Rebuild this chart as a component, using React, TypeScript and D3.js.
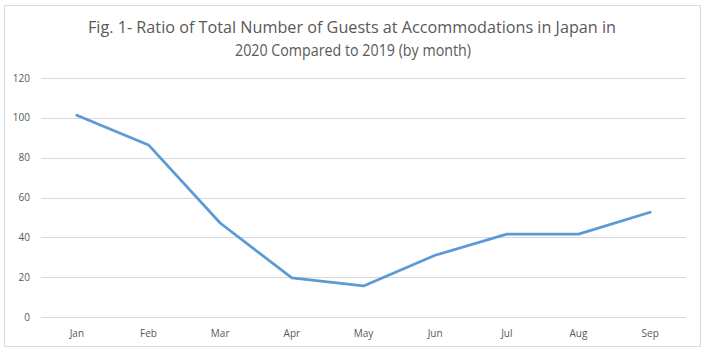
import React from 'react';
import * as d3 from 'd3';

const months = ['Jan', 'Feb', 'Mar', 'Apr', 'May', 'Jun', 'Jul', 'Aug', 'Sep'];
const ratios = [101.3, 86.4, 47.2, 19.6, 15.6, 31.0, 41.6, 41.6, 52.6];
const yTicks = [0, 20, 40, 60, 80, 100, 120];
const titleLines = [
    'Fig. 1- Ratio of Total Number of Guests at Accommodations in Japan in',
    '2020 Compared to 2019 (by month)',
];

const width = 706;
const height = 353;
const margin = { top: 78, right: 20, bottom: 36, left: 41 };
const font = '"Open Sans", "Noto Sans", sans-serif';
const textColor = '#595959';
const gridColor = '#d9d9d9';

const App = () => {
    const x = d3.scaleBand()
        .domain(months)
        .range([margin.left, width - margin.right])
        .paddingInner(0)
        .paddingOuter(0);

    const y = d3.scaleLinear()
        .domain([0, 120])
        .range([height - margin.bottom, margin.top]);

    const line = d3.line<number>()
        .x((d, i) => x(months[i])! + x.bandwidth() / 2)
        .y(d => y(d));

    return (
        <div style={{ position: 'fixed', left: 0, top: 0 }}>
            <svg width={width} height={height} style={{ display: 'block', background: '#fff' }}>
                <rect x={4.5} y={5.5} width={696} height={341} fill="#fff" stroke={gridColor} strokeWidth={1} />

                {/* title */}
                <text x={352} y={33} textAnchor="middle" fill={textColor} fontFamily={font} fontSize={17}
                    textLength={528} lengthAdjust="spacingAndGlyphs">{titleLines[0]}</text>
                <text x={353} y={56} textAnchor="middle" fill={textColor} fontFamily={font} fontSize={17}
                    textLength={236} lengthAdjust="spacingAndGlyphs">{titleLines[1]}</text>

                {/* gridlines + y labels */}
                <g>
                    {yTicks.map(t => (
                        <g key={t}>
                            <line x1={margin.left} x2={width - margin.right} y1={Math.round(y(t)) + 0.5} y2={Math.round(y(t)) + 0.5}
                                stroke={gridColor} strokeWidth={1} />
                            <text x={30} y={y(t)} dy="0.35em" textAnchor="end" fill={textColor}
                                fontFamily={font} fontSize={10}>{t}</text>
                        </g>
                    ))}
                </g>

                {/* x labels */}
                <g>
                    {months.map(m => (
                        <text key={m} x={x(m)! + x.bandwidth() / 2} y={337} textAnchor="middle" fill={textColor}
                            fontFamily={font} fontSize={10}>{m}</text>
                    ))}
                </g>

                <path d={line(ratios) || ''} fill="none" stroke="#5b9bd5" strokeWidth={2.75}
                    strokeLinejoin="round" strokeLinecap="round" />
            </svg>
        </div>
    );
};

export default App;
